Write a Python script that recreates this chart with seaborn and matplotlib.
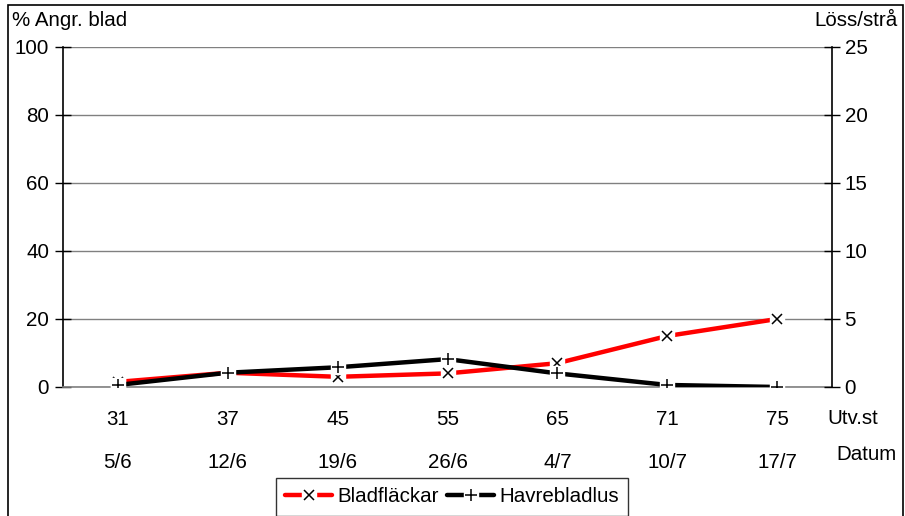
import matplotlib
matplotlib.use("Agg")
import matplotlib.pyplot as plt
import matplotlib.transforms as mtransforms
import seaborn as sns
import pandas as pd
from matplotlib.lines import Line2D
from matplotlib.patches import Rectangle
from matplotlib.legend_handler import HandlerTuple

# ---- data ----
stages = ["31", "37", "45", "55", "65", "71", "75"]
dates = ["5/6", "12/6", "19/6", "26/6", "4/7", "10/7", "17/7"]
bladflackar = [1.5, 4.2, 3.0, 4.0, 7.0, 15.0, 20.0]        # % angripna blad (left axis)
havrebladlus = [0.15, 1.05, 1.45, 2.05, 1.0, 0.15, 0.0]     # löss/strå (right axis)
left_ticks = [0, 20, 40, 60, 80, 100]
right_ticks = [0, 5, 10, 15, 20, 25]

FS = 14.8
sns.set_theme(style="white")
plt.rcParams["font.family"] = ["Liberation Sans", "DejaVu Sans"]
plt.rcParams["font.size"] = FS
plt.rcParams["text.color"] = "black"
plt.rcParams["xtick.color"] = "black"
plt.rcParams["ytick.color"] = "black"
plt.rcParams["xtick.labelcolor"] = "black"
plt.rcParams["ytick.labelcolor"] = "black"

df = pd.DataFrame({"pos": list(range(len(stages))),
                   "Bladfläckar": bladflackar,
                   "Havrebladlus": havrebladlus})

W, H = 905, 516
fig = plt.figure(figsize=(W / 100, H / 100), dpi=100)
ax = fig.add_axes([63 / W, 129 / H, 769 / W, 340 / H])
ax2 = ax.twinx()

LW = 3.2
# Bladfläckar (red, left axis)
sns.lineplot(data=df, x="pos", y="Bladfläckar", ax=ax, color="#FF0000", lw=LW,
             legend=False, zorder=2)
ax.plot(df["pos"], df["Bladfläckar"], ls="none", marker="s", ms=9.5,
        mfc="white", mec="white", zorder=3)
ax.plot(df["pos"], df["Bladfläckar"], ls="none", marker="x", ms=6.5,
        mec="black", mew=1.1, zorder=4)

# Havrebladlus (black, right axis)
sns.lineplot(data=df, x="pos", y="Havrebladlus", ax=ax2, color="black", lw=LW,
             legend=False, zorder=2)
ax2.plot(df["pos"], df["Havrebladlus"], ls="none", marker="s", ms=9.5,
         mfc="white", mec="white", zorder=3)
ax2.plot(df["pos"], df["Havrebladlus"], ls="none", marker="+", ms=8,
         mec="black", mew=1.1, zorder=4)

# axes
ax.set_xlim(-0.5, len(stages) - 0.5)
ax.set_ylim(0, 100)
ax2.set_ylim(0, 25)
ax.set_yticks(left_ticks)
ax2.set_yticks(right_ticks)
ax.set_xticks(range(len(stages)), stages)
ax.set_xlabel("")
ax.set_ylabel("")
ax2.set_ylabel("")
ax.grid(axis="y", color="#808080", lw=1)
ax.grid(axis="x", visible=False)
ax2.grid(False)
ax.set_axisbelow(True)

ax.tick_params(axis="x", length=0, pad=16.5, labelsize=FS, colors="black")
ax.tick_params(axis="y", direction="inout", length=12, width=1, color="black",
               pad=4, labelsize=FS, left=True, labelcolor="black")
ax2.tick_params(axis="y", direction="inout", length=12, width=1, color="black",
                pad=3, labelsize=FS, right=True, labelcolor="black")

for s in ["top", "right"]:
    ax.spines[s].set_visible(False)
ax.spines["left"].set_color("black")
ax.spines["left"].set_linewidth(1.2)
ax.spines["bottom"].set_color("#808080")
ax.spines["bottom"].set_linewidth(1.2)
for s in ["top", "left", "bottom"]:
    ax2.spines[s].set_visible(False)
ax2.spines["right"].set_color("black")
ax2.spines["right"].set_linewidth(1.2)

# second row of x labels (dates)
trans = mtransforms.blended_transform_factory(ax.transData, fig.transFigure)
for i, d in enumerate(dates):
    ax.text(i, 1 - 462 / H, d, transform=trans, ha="center", va="center",
            fontsize=FS, color="black")

fig.text(12 / W, 1 - 20 / H, "% Angr. blad", ha="left", va="center", fontsize=FS)
fig.text(898 / W, 1 - 20 / H, "Löss/strå", ha="right", va="center", fontsize=FS)
fig.text(853 / W, 1 - 418 / H, "Utv.st", ha="center", va="center", fontsize=FS)
fig.text(866 / W, 1 - 455 / H, "Datum", ha="center", va="center", fontsize=FS)

# legend
def handle(color, marker, ms):
    return (Line2D([], [], color=color, lw=LW),
            Line2D([], [], ls="none", marker="s", ms=9.5, mfc="white", mec="white"),
            Line2D([], [], ls="none", marker=marker, ms=ms, mec="black", mew=1.1))

leg = fig.legend([handle("#FF0000", "x", 6.5), handle("black", "+", 8)],
                 ["Bladfläckar", "Havrebladlus"],
                 handler_map={tuple: HandlerTuple(ndivide=1)},
                 loc="upper center", bbox_to_anchor=(452 / W, 1 - 478 / H),
                 ncol=2, frameon=True, fancybox=False, shadow=False,
                 fontsize=FS, handlelength=2.3, handletextpad=0.25,
                 columnspacing=0.4, borderpad=0.45, borderaxespad=0)
leg.get_frame().set_edgecolor("black")
leg.get_frame().set_linewidth(1)

# outer chart border
fig.add_artist(Rectangle((8 / W, -0.05), (903 - 8) / W, 1.05 - 5 / H,
                         transform=fig.transFigure, fill=False,
                         ec="black", lw=1.2))

fig.savefig("out.png", dpi=100)
